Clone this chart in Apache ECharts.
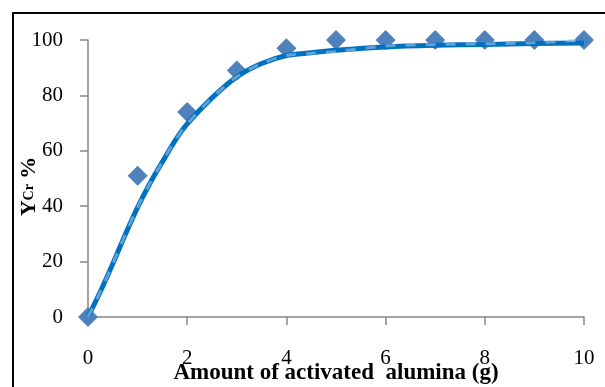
<!DOCTYPE html>
<html>
<head>
<meta charset="utf-8"/>
<title>Y Cr vs activated alumina</title>
<script src="https://cdn.jsdelivr.net/npm/echarts@6/dist/echarts.min.js"></script>
<style>
    html, body { margin: 0; padding: 0; background: #fff; }
    #chart { width: 605px; height: 387px; }
</style>
</head>
<body>
<div id="chart"></div>
<script>
    // measured points (diamonds)
    var doseX = [0, 1, 2, 3, 4, 5, 6, 7, 8, 9, 10];
    var removalY = [0, 51, 74, 89, 97, 100, 100, 100, 100, 100, 100];

    // fitted curve
    var fitX = [0, 0.25, 0.5, 0.75, 1, 1.25, 1.5, 1.75, 2, 2.5, 3, 3.5, 4, 4.5, 5, 6, 7, 8, 9, 10];
    var fitY = [0, 9.2, 19.2, 29.7, 39.6, 48.3, 56, 63.5, 69.7, 79.1, 86.7, 91.5, 94.4, 95.4, 96.3, 97.5, 98.1, 98.4, 98.7, 98.9];
    // lighter overlay of the fit
    var fit2Y = [0, 9.2, 19.2, 29.7, 39.6, 48.3, 56, 63.5, 69.7, 79.1, 86.7, 91.5, 94.4, 95.2, 95.8, 97.8, 98.4, 98.6, 99.0, 100];

    var xTicks = [0, 2, 4, 6, 8, 10];
    var yTicks = [0, 20, 40, 60, 80, 100];

    function pairs(xs, ys) {
        var out = [];
        for (var i = 0; i < xs.length; i++) {
            out.push([xs[i], ys[i]]);
        }
        return out;
    }

    var axisGray = '#868686';
    var serif = 'Liberation Serif';

    var option = {
        animation: false,
        grid: { left: 88, right: 21, top: 40, bottom: 70, containLabel: false, outerBoundsMode: 'none' },
        graphic: [{
            type: 'rect',
            shape: { x: 13, y: 13, width: 700, height: 500 },
            style: { fill: 'none', stroke: '#000', lineWidth: 2 },
            silent: true
        }],
        xAxis: {
            type: 'value',
            min: xTicks[0],
            max: xTicks[xTicks.length - 1],
            interval: xTicks[1] - xTicks[0],
            splitLine: { show: false },
            axisLine: { lineStyle: { color: axisGray, width: 1.5 } },
            axisTick: { length: 8, lineStyle: { color: axisGray, width: 1.5 } },
            axisLabel: { color: '#000', fontFamily: serif, fontSize: 21, margin: 31 },
            name: 'Amount of activated  alumina (g)',
            nameLocation: 'middle',
            nameGap: 45,
            nameMoveOverlap: false,
            nameTextStyle: { color: '#000', fontFamily: serif, fontSize: 23, fontWeight: 'bold' }
        },
        yAxis: {
            type: 'value',
            min: yTicks[0],
            max: yTicks[yTicks.length - 1],
            interval: yTicks[1] - yTicks[0],
            splitLine: { show: false },
            axisLine: { show: true, lineStyle: { color: axisGray, width: 1.5 } },
            axisTick: { show: true, length: 8, lineStyle: { color: axisGray, width: 1.5 } },
            axisLabel: { color: '#000', fontFamily: serif, fontSize: 21, margin: 25 },
            name: '{b|Y}{s|Cr}{b| %}',
            nameLocation: 'middle',
            nameRotate: 90,
            nameGap: 48,
            nameMoveOverlap: false,
            nameTextStyle: {
                color: '#000',
                fontFamily: serif,
                fontWeight: 'bold',
                padding: [0, 16, 0, 0],
                rich: {
                    b: { fontFamily: serif, fontWeight: 'bold', fontSize: 22, color: '#000' },
                    s: { fontFamily: serif, fontWeight: 'bold', fontSize: 14, color: '#000' }
                }
            }
        },
        series: [
            {
                type: 'scatter',
                data: pairs(doseX, removalY),
                symbol: 'diamond',
                symbolSize: 20,
                itemStyle: { color: '#4F81BD', opacity: 1 },
                z: 2
            },
            {
                type: 'line',
                data: pairs(fitX, fitY),
                smooth: 0.3,
                showSymbol: false,
                lineStyle: { color: '#0070C0', width: 5 },
                z: 3
            },
            {
                type: 'line',
                data: pairs(fitX, fit2Y),
                smooth: 0.3,
                showSymbol: false,
                lineStyle: { color: '#9DC3E6', width: 3, type: [10, 10], opacity: 0.6 },
                z: 4
            }
        ]
    };

    var myChart = echarts.init(document.getElementById('chart'));
    myChart.setOption(option);
</script>
</body>
</html>
